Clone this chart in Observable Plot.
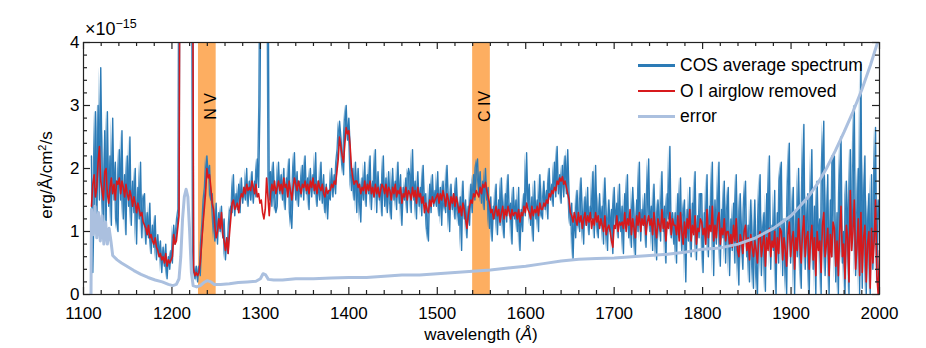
<!DOCTYPE html>
<html><head><meta charset="utf-8">
<script src="https://cdn.jsdelivr.net/npm/d3@7"></script>
<script src="https://cdn.jsdelivr.net/npm/@observablehq/plot@0.6"></script>
<style>
body{margin:0;background:#fff;font-family:"Liberation Sans",Arial,sans-serif;}
#wrap{position:relative;width:926px;height:348px;overflow:hidden;}
.ov{position:absolute;color:#000;white-space:nowrap;line-height:1;}
#scale{left:85px;top:20px;font-size:18px;}
#scale sup{font-size:12.5px;vertical-align:0;position:relative;top:-7px;}
#ylab{left:46px;top:175px;font-size:17px;transform:translate(-50%,-50%) rotate(-90deg);}
#ylab sup{font-size:11px;vertical-align:0;position:relative;top:-6px;}
#xlab{left:481px;top:334px;font-size:17px;transform:translate(-50%,-50%);}
.leg{position:absolute;left:638px;font-size:17.5px;line-height:1;white-space:nowrap;}
.leg span.sw{display:inline-block;width:37px;height:2.5px;vertical-align:middle;margin-right:5px;position:relative;top:-1px;}
</style></head><body><div id="wrap"></div>
<script>
// ---------- data (flux in units of 1e-15 erg/Å/cm²/s) ----------
const wlStart = 1109, wlStep = 1.5; // wavelength grid of the spectrum, Å (20 samples per row = 30 Å)
const cosFlux = [
  2.2,0.35,1.4,2.9,0.9,3.0,1.5,3.6,2.0,1.1, 2.6,1.0,2.9,1.4,2.2,1.1,2.8,1.5,2.1,1.2,          // 1109
  1.0,2.3,1.5,2.6,1.2,1.9,0.95,2.2,1.4,2.5, 1.1,1.8,1.3,2.0,0.8,1.7,1.2,2.1,0.9,1.5,          // 1139
  1.6,0.8,1.3,0.9,1.45,0.65,1.1,0.75,1.25,0.55, 0.95,0.6,0.85,0.35,0.75,0.45,0.8,0.25,0.6,0.4,// 1169
  0.7,0.5,1.1,0.8,0.95,1.2,1.35,8,8,8, 8,8,8,8,8,8,8,0.45,0.25,0.45,                          // 1199
  0.2,0.45,0.3,0.8,1.1,1.5,1.7,2.2,1.9,2.05, 1.5,1.6,1.2,0.85,1.45,0.8,1.3,1.0,1.4,0.9,       // 1229
  1.2,0.55,0.9,0.65,1.1,1.4,1.3,1.9,1.25,1.6, 1.35,1.75,1.3,1.85,1.45,1.7,1.5,2.0,1.4,1.8,    // 1259
  1.5,1.95,1.45,1.8,1.55,2.15,1.7,3.0,6,6, 6,6,6,6,1.5,1.95,1.4,2.1,1.6,1.3,                  // 1289
  1.4,2.1,1.6,1.9,1.5,2.0,1.35,1.85,1.6,2.15, 1.3,1.05,1.7,2.25,1.5,1.95,1.4,1.8,1.55,2.05,   // 1319
  1.5,2.2,1.6,1.85,1.35,2.0,1.55,1.9,1.6,2.25, 1.4,1.8,1.5,2.1,1.45,1.9,1.3,1.75,1.2,1.65,    // 1349
  1.5,2.0,1.55,1.9,1.6,2.1,2.3,2.75,2.5,2.2, 1.9,2.6,3.0,2.45,2.8,2.35,1.65,2.0,1.5,2.1,      // 1379
  1.3,2.0,1.6,1.15,1.85,1.5,2.1,1.4,1.9,1.6, 2.2,1.35,1.8,1.55,2.3,1.3,1.95,1.5,1.75,1.25,    // 1409
  2.2,1.4,1.85,1.3,1.95,1.55,1.2,2.0,1.5,1.8, 1.35,2.1,1.45,1.9,1.1,1.7,1.5,1.85,1.3,2.0,     // 1439
  1.9,1.3,2.3,1.5,1.8,1.2,1.95,1.4,1.7,1.25, 2.05,1.45,1.6,1.1,0.85,1.75,1.3,1.9,1.4,1.65,    // 1469
  1.4,1.95,1.25,1.7,1.1,1.8,1.45,1.3,2.05,1.5, 1.0,1.75,1.35,1.6,1.2,1.85,1.4,1.1,1.55,0.7,   // 1499
  1.8,1.2,1.5,0.9,1.4,1.1,1.75,1.3,1.9,1.5, 2.0,2.15,1.6,1.95,1.45,1.8,1.35,2.0,1.5,1.7,      // 1529
  1.05,1.55,0.85,1.4,1.2,1.75,0.95,1.5,1.1,1.85, 1.3,0.9,1.6,1.15,1.9,1.25,1.45,0.8,1.7,1.2,  // 1559
  1.5,1.0,1.7,0.7,1.35,1.0,1.6,1.25,2.25,1.4, 1.75,1.1,1.55,0.85,1.8,1.2,1.5,1.0,1.9,1.3,     // 1589
  1.2,1.8,1.35,1.65,1.2,2.0,1.5,1.75,1.4,2.1, 1.55,2.35,1.6,1.9,1.45,2.05,1.55,2.2,1.6,2.3,   // 1619
  1.6,1.1,1.45,0.55,1.3,0.9,1.65,1.2,1.0,1.85, 1.3,0.8,1.55,1.1,1.7,0.95,1.4,1.2,1.95,0.9,    // 1649
  2.05,1.2,0.9,1.6,1.1,1.4,0.8,1.85,1.25,0.7, 1.5,1.0,1.35,0.65,1.7,1.1,1.45,0.9,1.75,1.0,    // 1679
  1.4,0.65,1.6,1.05,1.9,0.9,1.3,0.75,1.7,1.2, 0.6,1.5,1.0,2.1,0.85,1.35,1.1,1.6,0.75,1.45,    // 1709
  2.15,1.0,1.4,0.7,1.75,1.1,0.55,1.5,1.2,0.85, 1.95,1.0,1.4,0.5,1.6,1.2,2.35,0.9,1.3,0.8,     // 1739
  1.3,0.5,1.6,0.9,1.85,0.7,1.2,1.5,0.2,1.35, 0.85,1.7,0.6,1.45,1.0,1.95,0.55,1.25,0.9,1.6,    // 1769
  1.6,0.35,1.3,0.9,1.9,0.6,1.4,1.05,2.1,0.3, 1.5,0.8,1.2,2.1,0.45,1.35,0.9,1.8,0.5,1.25,      // 1799
  1.7,0.3,1.2,0.7,1.45,0.5,1.9,0.85,0.15,1.6, 1.0,0.4,1.3,1.8,0.6,1.1,0.2,1.5,0.8,0.1,        // 1829
  1.5,0.6,0.0,1.2,1.9,0.3,1.0,1.3,0.05,1.6, 0.8,2.2,0.4,1.1,0.7,1.65,0.0,1.3,0.5,1.8,         // 1859
  2.1,0.3,1.2,0.7,0.0,1.5,2.4,0.5,1.0,1.7, 0.0,1.3,0.6,2.0,0.9,0.1,1.6,2.7,0.4,1.1,           // 1889
  1.6,0.0,1.1,2.3,0.4,1.4,0.0,1.8,0.8,1.2, 0.0,2.0,2.75,0.3,1.0,1.9,0.0,1.5,0.6,2.2,          // 1919
  2.2,0.2,1.3,0.0,1.6,2.5,0.5,1.0,0.0,1.8, 1.2,0.0,2.3,0.7,1.5,3.0,0.3,0.9,2.0,0.0,           // 1949
  3.65,0.1,1.4,2.2,0.0,1.0,1.6,0.0,1.9,0.4, 1.2,2.65,0.2,1.5,1.2                             // 1979
];
const airglowRemoved = [
  1.4,1.75,1.9,1.55,1.7,2.1,2.35,1.8,1.65,1.5, 1.95,2.0,1.6,1.45,1.7,1.85,1.6,1.75,1.5,1.8,       // 1109
  1.75,1.85,1.6,1.8,1.7,1.55,1.75,1.6,1.5,1.65, 1.55,1.4,1.55,1.45,1.3,1.45,1.35,1.25,1.3,1.15,   // 1139
  1.1,1.05,0.95,1.1,0.9,0.95,0.85,0.8,0.9,0.75, 0.7,0.6,0.65,0.55,0.6,0.5,0.65,0.45,0.55,0.5,     // 1169
  0.55,0.6,0.95,0.8,0.85,1.05,1.25,8,8,8, 8,8,8,8,8,8,8,0.4,0.3,0.35,                             // 1199
  0.3,0.35,0.5,0.8,1.1,1.35,1.6,2.0,1.85,1.9, 1.7,1.45,1.35,1.1,0.9,1.0,1.2,1.05,1.3,0.95,        // 1229
  0.85,0.7,0.9,0.65,0.95,1.2,1.45,1.5,1.35,1.4, 1.45,1.3,1.5,1.6,1.55,1.7,1.6,1.75,1.65,1.7,      // 1259
  1.65,1.8,1.7,1.6,1.75,1.55,1.6,1.45,1.5,1.3, 1.2,1.35,1.85,1.55,1.25,1.6,1.75,1.65,1.8,1.6,     // 1289
  1.7,1.8,1.65,1.75,1.6,1.85,1.7,1.75,1.55,1.8, 1.65,1.5,1.7,1.85,1.75,1.65,1.8,1.7,1.6,1.75,     // 1319
  1.7,1.8,1.65,1.75,1.6,1.8,1.7,1.85,1.65,1.75, 1.6,1.8,1.7,1.65,1.75,1.6,1.55,1.7,1.6,1.65,      // 1349
  1.65,1.75,1.7,1.8,1.75,1.95,2.15,2.5,2.35,2.2, 2.1,2.4,2.65,2.55,2.6,2.35,2.0,1.85,1.75,1.8,    // 1379
  1.8,1.7,1.75,1.6,1.7,1.65,1.8,1.6,1.75,1.65, 1.8,1.6,1.7,1.55,1.75,1.6,1.7,1.55,1.65,1.75,      // 1409
  1.7,1.6,1.75,1.55,1.7,1.65,1.5,1.7,1.6,1.75, 1.55,1.65,1.6,1.7,1.45,1.6,1.55,1.7,1.5,1.65,      // 1439
  1.6,1.5,1.7,1.55,1.65,1.45,1.7,1.55,1.6,1.45, 1.55,1.3,1.45,1.35,1.3,1.5,1.4,1.55,1.45,1.5,     // 1469
  1.55,1.6,1.45,1.6,1.5,1.65,1.55,1.4,1.6,1.5, 1.35,1.55,1.45,1.6,1.4,1.55,1.45,1.3,1.4,1.25,     // 1499
  1.45,1.35,1.2,1.05,1.25,1.4,1.5,1.45,1.6,1.55, 1.65,1.6,1.55,1.7,1.6,1.75,1.7,1.78,1.65,1.55,   // 1529
  1.45,1.3,1.35,1.2,1.3,1.4,1.25,1.35,1.15,1.3, 1.4,1.2,1.35,1.25,1.4,1.3,1.2,1.35,1.25,1.3,      // 1559
  1.3,1.2,1.35,1.15,1.3,1.25,1.4,1.3,1.45,1.35, 1.3,1.2,1.4,1.25,1.35,1.3,1.4,1.25,1.45,1.35,     // 1589
  1.35,1.45,1.4,1.5,1.45,1.6,1.55,1.65,1.6,1.7, 1.65,1.8,1.75,1.85,1.8,1.87,1.75,1.8,1.7,1.6,     // 1619
  1.5,1.3,1.25,1.15,1.3,1.2,1.1,1.3,1.15,1.25, 1.05,1.2,1.3,1.1,1.25,1.15,1.3,1.05,1.2,1.1,       // 1649
  1.3,1.15,1.25,1.05,1.2,1.1,1.0,1.25,0.95,1.05, 1.1,1.0,0.85,0.75,1.1,1.05,1.25,1.0,1.15,1.1,    // 1679
  1.15,1.05,1.3,1.0,1.2,1.1,1.35,0.95,1.2,1.05, 0.9,1.25,1.1,1.3,1.0,1.2,1.1,1.25,0.95,1.15,      // 1709
  1.25,1.1,1.2,0.95,1.3,1.05,0.9,1.2,1.1,1.0, 1.35,1.05,1.2,0.85,1.15,1.05,1.3,0.95,1.2,1.1,      // 1739
  1.1,0.95,1.25,0.85,1.3,1.0,0.8,1.15,0.9,1.2, 1.05,1.35,0.85,1.1,0.95,1.25,0.8,1.05,1.0,1.2,     // 1769
  1.15,0.95,1.05,0.8,1.35,0.9,1.1,1.0,1.4,0.85, 1.1,0.9,1.2,1.3,0.8,1.05,0.95,1.2,0.85,1.0,      // 1799
  1.0,0.8,0.95,0.75,1.1,0.85,1.2,0.7,0.6,0.95, 0.85,0.65,1.0,1.1,0.7,0.9,0.55,0.95,0.75,0.6,     // 1829
  0.85,0.7,0.5,0.9,1.0,0.6,0.8,0.95,0.45,0.9, 0.7,1.05,0.6,0.85,0.75,1.0,0.5,0.9,0.65,1.05,      // 1859
  1.0,0.55,0.9,0.7,0.45,0.95,1.15,0.6,0.85,1.0, 0.4,0.9,0.7,1.2,0.8,0.5,1.0,1.25,0.6,0.9,        // 1889
  1.0,0.4,0.85,1.1,0.55,0.9,0.3,1.0,0.7,0.85, 0.35,1.1,1.3,0.6,0.8,1.05,0.3,0.95,0.6,1.15,       // 1919
  1.05,0.45,0.85,0.3,1.0,1.4,0.6,0.8,0.25,1.1, 0.9,0.2,1.65,0.7,1.0,1.5,0.4,0.75,1.2,0.3,        // 1949
  1.3,0.35,0.9,1.1,0.2,0.8,1.0,0.1,1.05,0.5, 0.85,1.5,0.3,0.0,0.7                               // 1979
];
const errWl = [1108.5,1109,1111,1113,1115,1117,1119,1121,1123,1125,
  1127,1129,1131,1133,1138,1143,1150,1157,1165,1173,
  1181,1189,1196,1201,1205,1208,1210,1212,1214,1216,
  1218,1220,1222,1224,1228,1232,1236,1240,1244,1248,
  1255,1265,1275,1285,1295,1300,1303,1306,1309,1315,
  1325,1340,1360,1380,1400,1420,1440,1460,1480,1500,
  1520,1540,1560,1580,1600,1620,1640,1660,1680,1700,
  1720,1740,1760,1780,1800,1820,1840,1860,1880,1900,
  1910,1920,1930,1940,1950,1960,1970,1980,1990,2000];
const errFlux = [0,1.35,0.95,1.4,0.9,1.3,0.85,1.25,0.8,1.15,
  0.8,1.05,0.85,0.62,0.55,0.5,0.44,0.38,0.32,0.27,
  0.23,0.2,0.16,0.14,0.16,0.25,0.6,1.2,1.55,1.67,
  1.55,1.0,0.35,0.14,0.12,0.14,0.19,0.22,0.2,0.16,
  0.16,0.17,0.19,0.2,0.21,0.25,0.33,0.31,0.24,0.23,
  0.23,0.25,0.25,0.26,0.27,0.27,0.29,0.31,0.31,0.33,
  0.35,0.37,0.39,0.42,0.45,0.49,0.53,0.56,0.57,0.58,
  0.6,0.62,0.64,0.67,0.72,0.74,0.8,0.9,1.05,1.25,
  1.4,1.56,1.76,2.0,2.28,2.58,2.9,3.25,3.65,4.1];
const bandIons = ["N V", "C IV"];
const bandLo = [1230, 1540];
const bandHi = [1250, 1560];
const xTicks = [1100,1200,1300,1400,1500,1600,1700,1800,1900,2000];
const yTicks = [0,1,2,3,4];
const seriesNames = ["COS average spectrum", "O I airglow removed", "error"];
const seriesColors = ["#2c7bb6", "#d7191c", "#abc0df"];
const bandColor = "#fdae61";

// ---------- tables ----------
// each spectrum row also carries its neighbour sample so the dense noise between samples is shaded
const cosRows = cosFlux.map((v, i) => ({wl: wlStart + i * wlStep, f: v, fn: cosFlux[Math.min(i + 1, cosFlux.length - 1)]}));
const cleanRows = airglowRemoved.map((v, i) => ({wl: wlStart + i * wlStep, f: v}));
const errRows = errWl.map((w, i) => ({wl: w, f: errFlux[i]}));
const bands = bandIons.map((ion, i) => ({ion, lo: bandLo[i], hi: bandHi[i]}));
const minorX = d3.range(1100, 2001, 20).filter(v => v % 100 !== 0);
const minorY = d3.range(0, 21).map(i => i / 5).filter(v => !Number.isInteger(v));

const W = 926, H = 348, ML = 83, MR = 47, MT = 42, MB = 54;
const fw = W - ML - MR, fh = H - MT - MB;
const tk = {stroke: "#222", strokeWidth: 1.2};

const chart = Plot.plot({
  width: W, height: H,
  marginLeft: ML, marginRight: MR, marginTop: MT, marginBottom: MB,
  x: {domain: [1100, 2000]},
  y: {domain: [0, 4]},
  style: {fontFamily: "'Liberation Sans', Arial, sans-serif", fontSize: "17px", color: "#000", background: "#fff"},
  marks: [
    Plot.rect(bands, {x1: "lo", x2: "hi", fill: bandColor}),
    Plot.areaY(cosRows, {x: "wl", y1: "f", y2: "fn", fill: seriesColors[0], fillOpacity: 0.9, clip: true}),
    Plot.line(cosRows, {x: "wl", y: "f", stroke: seriesColors[0], strokeWidth: 1.4, clip: true}),
    Plot.line(cleanRows, {x: "wl", y: "f", stroke: seriesColors[1], strokeWidth: 1.6, clip: true}),
    Plot.line(errRows, {x: "wl", y: "f", stroke: seriesColors[2], strokeWidth: 3, clip: true}),
    Plot.text(bands, {x: d => (d.lo + d.hi) / 2, text: "ion", frameAnchor: "top", dy: 64, dx: -3, rotate: -90, fontSize: 16, fill: "#000"}),
    Plot.ruleX(xTicks, {...tk, insetTop: fh - 7}),
    Plot.ruleX(xTicks, {...tk, insetBottom: fh - 7}),
    Plot.ruleX(minorX, {...tk, insetTop: fh - 4}),
    Plot.ruleX(minorX, {...tk, insetBottom: fh - 4}),
    Plot.ruleY(yTicks, {...tk, insetRight: fw - 7}),
    Plot.ruleY(yTicks, {...tk, insetLeft: fw - 7}),
    Plot.ruleY(minorY, {...tk, insetRight: fw - 4}),
    Plot.ruleY(minorY, {...tk, insetLeft: fw - 4}),
    Plot.frame({stroke: "#222", strokeWidth: 1.2}),
    Plot.axisX({ticks: xTicks, tickSize: 0, tickPadding: 12, tickFormat: d => String(d), label: null, fontSize: 17}),
    Plot.axisY({ticks: yTicks, tickSize: 0, tickPadding: 4, tickFormat: d => String(d), label: null, fontSize: 17})
  ]
});

const wrap = document.getElementById("wrap");
wrap.appendChild(chart);

function ov(id, html) {
  const d = document.createElement("div");
  d.className = "ov"; d.id = id; d.innerHTML = html;
  wrap.appendChild(d);
}
ov("scale", "×10<sup>−15</sup>");
ov("ylab", "erg/Å/cm<sup>2</sup>/s");
ov("xlab", "wavelength (<i>Å</i>)");
seriesNames.forEach((name, i) => {
  const d = document.createElement("div");
  d.className = "leg";
  d.style.top = (57 + i * 25.5) + "px";
  d.innerHTML = `<span class="sw" style="background:${seriesColors[i]}"></span>${name}`;
  wrap.appendChild(d);
});
</script>
</body></html>
